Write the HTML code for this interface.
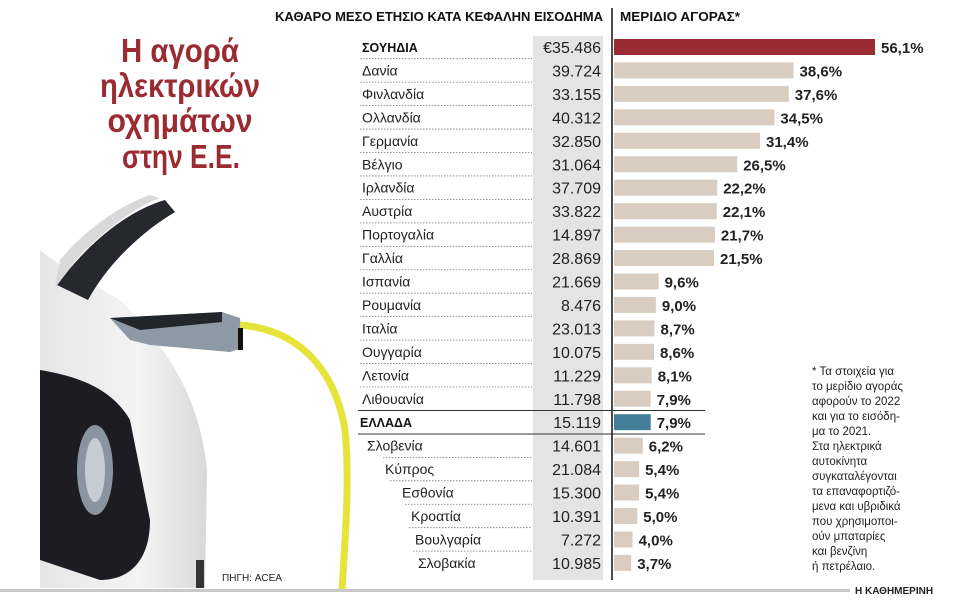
<!DOCTYPE html>
<html><head><meta charset="utf-8"><style>
html,body{margin:0;padding:0;background:#fff;}
svg{display:block;font-family:"Liberation Sans","DejaVu Sans",sans-serif;}
.n{font-size:14px;fill:#222}
.b{font-size:12.5px;font-weight:bold;fill:#111}
.v{font-size:16px;fill:#222;text-anchor:end}
.p{font-size:15px;font-weight:bold;fill:#222}
.d{stroke:#777;stroke-dasharray:1.5,1.5;stroke-width:0.8}
.bar{fill:#d9cdc1}
</style></head><body>
<svg width="960" height="600" viewBox="0 0 960 600" xmlns="http://www.w3.org/2000/svg">
<defs>
<linearGradient id="body" x1="0" x2="1" y1="0" y2="0">
<stop offset="0" stop-color="#e6e6e6"/><stop offset="0.6" stop-color="#f4f4f4"/><stop offset="1" stop-color="#d8d8d8"/>
</linearGradient>
</defs>
<path d="M40 250 L40 588 L205 588 L207 470 C200 400 170 350 120 300 L60 265 Z" fill="url(#body)"/>
<path d="M40 370 C70 375 110 385 130 420 L150 520 C150 560 130 580 100 580 L40 560 Z" fill="#1c1c22"/>
<ellipse cx="95" cy="470" rx="18" ry="45" fill="#8a94a0"/>
<ellipse cx="95" cy="470" rx="10" ry="32" fill="#c6ccd4"/>
<path d="M57 285 C90 240 130 210 165 200 L175 212 C145 230 110 260 88 300 Z" fill="#26282e"/>
<path d="M55 288 L80 255 C110 225 140 205 160 198 L150 195 C120 205 85 230 60 260 Z" fill="#d9d9d9"/>
<path d="M110 318 L222 312 L240 318 L242 348 L230 352 L150 345 L130 340 Z" fill="#8d9aa6"/>
<path d="M110 318 L222 312 L222 322 L140 330 Z" fill="#22252a"/>
<path d="M240 325 C300 330 335 370 345 430 C350 480 345 540 342 590" stroke="#e6e33a" stroke-width="7" fill="none"/>
<rect x="238" y="328" width="5" height="22" fill="#111"/>
<rect x="196" y="560" width="8" height="28" fill="#333"/>
<text x="222" y="581" font-size="10" fill="#222">ΠΗΓΗ: ACEA</text>
<g font-weight="bold" font-size="33" fill="#9b2b33" text-anchor="middle">
<text x="180" y="62" textLength="118" lengthAdjust="spacingAndGlyphs">Η αγορά</text>
<text x="180" y="97" textLength="160" lengthAdjust="spacingAndGlyphs">ηλεκτρικών</text>
<text x="180" y="132" textLength="145" lengthAdjust="spacingAndGlyphs">οχημάτων</text>
<text x="181" y="168" textLength="118" lengthAdjust="spacingAndGlyphs">στην Ε.Ε.</text>
</g>
<text x="275" y="21" font-size="13" font-weight="bold" fill="#111" textLength="328" lengthAdjust="spacingAndGlyphs">ΚΑΘΑΡΟ ΜΕΣΟ ΕΤΗΣΙΟ ΚΑΤΑ ΚΕΦΑΛΗΝ ΕΙΣΟΔΗΜΑ</text>
<text x="620" y="21" font-size="13" font-weight="bold" fill="#111" textLength="120" lengthAdjust="spacingAndGlyphs">ΜΕΡΙΔΙΟ ΑΓΟΡΑΣ*</text>
<rect x="533" y="36" width="70" height="544" fill="#e4e4e4"/>
<line x1="612" y1="8" x2="612" y2="580" stroke="#111" stroke-width="1.5"/>

<g transform="translate(0,47)"><rect x="614" y="-8" width="261" height="16" fill="#9b2b33"/><text class="p" x="881" y="6">56,1%</text><text class="b" x="362" y="5">ΣΟΥΗΔΙΑ</text><text class="v" x="601" y="6">€35.486</text><line class="d" x1="360" y1="11.7" x2="532" y2="11.7"/></g>
<g transform="translate(0,70.45)"><rect class="bar" x="614" y="-8" width="179.5" height="16"/><text class="p" x="799.5" y="6">38,6%</text><text class="n" x="362" y="5">Δανία</text><text class="v" x="601" y="6">39.724</text><line class="d" x1="360" y1="11.7" x2="532" y2="11.7"/></g>
<g transform="translate(0,93.9)"><rect class="bar" x="614" y="-8" width="174.8" height="16"/><text class="p" x="794.8" y="6">37,6%</text><text class="n" x="362" y="5">Φινλανδία</text><text class="v" x="601" y="6">33.155</text><line class="d" x1="360" y1="11.7" x2="532" y2="11.7"/></g>
<g transform="translate(0,117.35)"><rect class="bar" x="614" y="-8" width="160.4" height="16"/><text class="p" x="780.4" y="6">34,5%</text><text class="n" x="362" y="5">Ολλανδία</text><text class="v" x="601" y="6">40.312</text><line class="d" x1="360" y1="11.7" x2="532" y2="11.7"/></g>
<g transform="translate(0,140.8)"><rect class="bar" x="614" y="-8" width="146" height="16"/><text class="p" x="766" y="6">31,4%</text><text class="n" x="362" y="5">Γερμανία</text><text class="v" x="601" y="6">32.850</text><line class="d" x1="360" y1="11.7" x2="532" y2="11.7"/></g>
<g transform="translate(0,164.25)"><rect class="bar" x="614" y="-8" width="123.2" height="16"/><text class="p" x="743.2" y="6">26,5%</text><text class="n" x="362" y="5">Βέλγιο</text><text class="v" x="601" y="6">31.064</text><line class="d" x1="360" y1="11.7" x2="532" y2="11.7"/></g>
<g transform="translate(0,187.7)"><rect class="bar" x="614" y="-8" width="103.2" height="16"/><text class="p" x="723.2" y="6">22,2%</text><text class="n" x="362" y="5">Ιρλανδία</text><text class="v" x="601" y="6">37.709</text><line class="d" x1="360" y1="11.7" x2="532" y2="11.7"/></g>
<g transform="translate(0,211.15)"><rect class="bar" x="614" y="-8" width="102.8" height="16"/><text class="p" x="722.8" y="6">22,1%</text><text class="n" x="362" y="5">Αυστρία</text><text class="v" x="601" y="6">33.822</text><line class="d" x1="360" y1="11.7" x2="532" y2="11.7"/></g>
<g transform="translate(0,234.6)"><rect class="bar" x="614" y="-8" width="100.9" height="16"/><text class="p" x="720.9" y="6">21,7%</text><text class="n" x="362" y="5">Πορτογαλία</text><text class="v" x="601" y="6">14.897</text><line class="d" x1="360" y1="11.7" x2="532" y2="11.7"/></g>
<g transform="translate(0,258.05)"><rect class="bar" x="614" y="-8" width="100" height="16"/><text class="p" x="720" y="6">21,5%</text><text class="n" x="362" y="5">Γαλλία</text><text class="v" x="601" y="6">28.869</text><line class="d" x1="360" y1="11.7" x2="532" y2="11.7"/></g>
<g transform="translate(0,281.5)"><rect class="bar" x="614" y="-8" width="44.6" height="16"/><text class="p" x="664.6" y="6">9,6%</text><text class="n" x="362" y="5">Ισπανία</text><text class="v" x="601" y="6">21.669</text><line class="d" x1="360" y1="11.7" x2="532" y2="11.7"/></g>
<g transform="translate(0,304.95)"><rect class="bar" x="614" y="-8" width="41.9" height="16"/><text class="p" x="661.9" y="6">9,0%</text><text class="n" x="362" y="5">Ρουμανία</text><text class="v" x="601" y="6">8.476</text><line class="d" x1="360" y1="11.7" x2="532" y2="11.7"/></g>
<g transform="translate(0,328.4)"><rect class="bar" x="614" y="-8" width="40.5" height="16"/><text class="p" x="660.5" y="6">8,7%</text><text class="n" x="362" y="5">Ιταλία</text><text class="v" x="601" y="6">23.013</text><line class="d" x1="360" y1="11.7" x2="532" y2="11.7"/></g>
<g transform="translate(0,351.85)"><rect class="bar" x="614" y="-8" width="40" height="16"/><text class="p" x="660" y="6">8,6%</text><text class="n" x="362" y="5">Ουγγαρία</text><text class="v" x="601" y="6">10.075</text><line class="d" x1="360" y1="11.7" x2="532" y2="11.7"/></g>
<g transform="translate(0,375.3)"><rect class="bar" x="614" y="-8" width="37.7" height="16"/><text class="p" x="657.7" y="6">8,1%</text><text class="n" x="362" y="5">Λετονία</text><text class="v" x="601" y="6">11.229</text><line class="d" x1="360" y1="11.7" x2="532" y2="11.7"/></g>
<g transform="translate(0,398.75)"><rect class="bar" x="614" y="-8" width="36.7" height="16"/><text class="p" x="656.7" y="6">7,9%</text><text class="n" x="362" y="5">Λιθουανία</text><text class="v" x="601" y="6">11.798</text></g>
<line x1="358" y1="410.5" x2="705" y2="410.5" stroke="#333" stroke-width="1"/>
<g transform="translate(0,422.2)"><rect x="614" y="-8" width="36.7" height="16" fill="#437f9a"/><text class="p" x="656.7" y="6">7,9%</text><text class="b" x="360" y="5">ΕΛΛΑΔΑ</text><text class="v" x="601" y="6">15.119</text></g>
<line x1="358" y1="434" x2="705" y2="434" stroke="#333" stroke-width="1"/>
<g transform="translate(0,445.65)"><rect class="bar" x="614" y="-8" width="28.8" height="16"/><text class="p" x="648.8" y="6">6,2%</text><text class="n" x="367" y="5">Σλοβενία</text><text class="v" x="601" y="6">14.601</text><line class="d" x1="383" y1="11.7" x2="532" y2="11.7"/></g>
<g transform="translate(0,469.1)"><rect class="bar" x="614" y="-8" width="25.1" height="16"/><text class="p" x="645.1" y="6">5,4%</text><text class="n" x="385" y="5">Κύπρος</text><text class="v" x="601" y="6">21.084</text><line class="d" x1="390" y1="11.7" x2="532" y2="11.7"/></g>
<g transform="translate(0,492.55)"><rect class="bar" x="614" y="-8" width="25.1" height="16"/><text class="p" x="645.1" y="6">5,4%</text><text class="n" x="402" y="5">Εσθονία</text><text class="v" x="601" y="6">15.300</text><line class="d" x1="405" y1="11.7" x2="532" y2="11.7"/></g>
<g transform="translate(0,516)"><rect class="bar" x="614" y="-8" width="23.3" height="16"/><text class="p" x="643.3" y="6">5,0%</text><text class="n" x="411" y="5">Κροατία</text><text class="v" x="601" y="6">10.391</text><line class="d" x1="409" y1="11.7" x2="532" y2="11.7"/></g>
<g transform="translate(0,539.45)"><rect class="bar" x="614" y="-8" width="18.6" height="16"/><text class="p" x="638.6" y="6">4,0%</text><text class="n" x="415" y="5">Βουλγαρία</text><text class="v" x="601" y="6">7.272</text><line class="d" x1="413" y1="11.7" x2="532" y2="11.7"/></g>
<g transform="translate(0,562.9)"><rect class="bar" x="614" y="-8" width="17.2" height="16"/><text class="p" x="637.2" y="6">3,7%</text><text class="n" x="418" y="5">Σλοβακία</text><text class="v" x="601" y="6">10.985</text></g>

<g font-size="11.5" fill="#222">
<text x="812" y="375">* Τα στοιχεία για</text>
<text x="812" y="390">το μερίδιο αγοράς</text>
<text x="812" y="405">αφορούν το 2022</text>
<text x="812" y="420">και για το εισόδη-</text>
<text x="812" y="435">μα το 2021.</text>
<text x="812" y="450">Στα ηλεκτρικά</text>
<text x="812" y="465">αυτοκίνητα</text>
<text x="812" y="480">συγκαταλέγονται</text>
<text x="812" y="495">τα επαναφορτιζό-</text>
<text x="812" y="510">μενα και υβριδικά</text>
<text x="812" y="525">που χρησιμοποι-</text>
<text x="812" y="540">ούν μπαταρίες</text>
<text x="812" y="555">και βενζίνη</text>
<text x="812" y="570">ή πετρέλαιο.</text>
</g>
<rect x="0" y="589" width="850" height="3" fill="#c8c8c8"/>
<text x="855" y="594" font-size="10" font-weight="bold" fill="#222">Η ΚΑΘΗΜΕΡΙΝΗ</text>
</svg>
</body></html>
